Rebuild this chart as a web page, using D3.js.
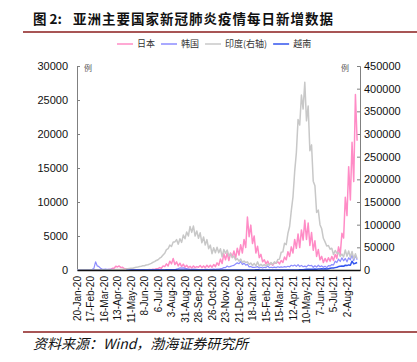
<!DOCTYPE html>
<html>
<head>
<meta charset="utf-8">
<script src="https://cdn.jsdelivr.net/npm/d3@7"></script>
<style>
  body { margin: 0; background: #fff; }
  svg { display: block; }
</style>
</head>
<body>
<svg id="chart" width="417" height="362"></svg>
<script>
// 数据：从2020-01-20起，每3.5天一个读数
const seriesNames = ["日本", "韩国", "印度(右轴)", "越南"];
const seriesColors = ["#ff8cc6", "#8c8cff", "#c8c8c8", "#3355ee"];

const japan = [
  0,0,1,2,3,5,5,10,
  10,20,10,20,15,40,30,40,
  20,40,40,80,90,250,250,550,
  450,600,350,400,200,200,100,100,
  60,70,30,40,20,30,40,50,
  30,50,50,60,40,100,90,200,
  200,350,250,600,500,900,600,1300,
  900,1700,800,1200,600,1000,500,850,
  400,700,350,550,300,600,350,500,
  400,650,350,600,350,700,400,700,
  400,800,500,1050,700,1600,950,2400,
  1500,2500,1400,2500,1900,2800,1700,3200,
  2200,3700,2500,4500,3300,7800,4900,6600,
  3900,5000,2500,3500,1800,2300,1200,1500,
  900,1300,800,1000,700,1100,1000,1200,
  900,1400,1100,1900,1500,2700,2000,3400,
  2500,4500,3200,5300,3300,5900,4400,7300,
  4500,6900,3600,5500,2900,4300,2000,3000,
  1500,2000,1100,1700,1200,1800,1300,2000,
  1400,2300,1700,3400,2300,5400,4700,10700,
  8000,15200,10300,18800,13000,25800,19000
];

const korea = [
  0,0,1,1,2,3,5,2,
  3,100,230,1200,600,500,250,110,
  100,150,80,100,80,90,50,30,
  25,20,10,10,10,10,5,30,
  30,25,20,20,40,40,40,50,
  40,40,40,40,30,50,40,60,
  50,40,40,40,40,50,30,30,
  30,40,40,150,200,300,280,320,
  250,200,150,120,100,120,80,110,
  60,70,70,60,90,100,70,90,
  100,120,100,140,120,190,220,350,
  350,580,450,540,620,680,880,1050,
  920,1240,800,1000,700,850,450,520,
  380,400,430,500,300,400,300,400,
  350,600,330,400,350,420,350,470,
  380,450,400,490,430,550,470,700,
  580,730,530,790,500,680,480,570,
  460,710,620,670,400,620,430,700,
  480,610,400,550,350,650,600,800,
  750,1300,1100,1600,1250,1800,1350,1700,
  1200,1800,1500,2200,1400,2150,1500
];

const india = [
  0,0,0,0,0,0,0,0,
  0,0,0,0,5,10,20,30,
  20,50,100,150,200,500,600,900,
  1000,1000,1300,1500,1600,1900,3000,3500,
  4000,3800,5000,6000,6500,7500,8000,9300,
  9500,11000,11500,13000,14500,17000,18500,21000,
  22500,26000,28500,33000,37000,45000,47000,55000,
  52000,62000,62000,67000,57000,69000,61000,77000,
  69000,84000,75000,96000,83000,97000,75000,86000,
  70000,82000,60000,73000,55000,67000,47000,55000,
  36000,49000,38000,50000,38000,47000,29000,45000,
  37000,44000,31000,36000,27000,31000,22000,25000,
  19500,24000,16500,20000,16500,18000,12500,15500,
  10000,14500,9000,18000,8600,12500,9000,12000,
  9100,13000,10600,16500,12000,18000,15000,23000,
  24000,39000,40000,59000,56000,81000,96000,131000,
  161000,217000,259000,332000,320000,386000,355000,414000,
  329000,362000,263000,276000,196000,186000,127000,132000,
  100000,91000,70000,62000,53000,54000,46000,48000,
  34000,43000,37000,38000,30000,35000,29000,44000,
  30000,42000,28000,41000,25000,36000,25000
];

const vietnam = [
  0,0,0,0,2,1,0,0,
  0,0,0,0,0,5,10,15,
  20,15,10,5,5,3,1,0,
  0,0,0,0,0,0,0,0,
  1,2,3,1,0,0,2,0,
  0,1,0,0,1,2,3,0,
  0,1,2,0,5,20,40,30,
  35,40,30,20,15,10,5,5,
  3,2,1,0,1,2,3,2,
  1,2,3,2,1,2,1,2,
  3,2,1,2,1,2,3,2,
  1,2,3,2,1,2,1,3,
  2,1,2,3,2,1,2,3,
  1,2,30,40,20,10,15,10,
  5,3,2,2,1,2,3,4,
  5,4,3,2,5,4,3,5,
  8,5,3,10,20,30,50,80,
  100,120,100,110,120,130,120,140,
  150,200,150,200,150,200,250,300,
  300,350,400,500,550,600,550,700,
  650,750,700,1300,900,1000,1100
];

const leftTicks = [0, 5000, 10000, 15000, 20000, 25000, 30000];
const rightTicks = [0, 50000, 100000, 150000, 200000, 250000, 300000, 350000, 400000, 450000];
const xTickLabels = ["20-Jan-20","17-Feb-20","16-Mar-20","13-Apr-20","11-May-20","8-Jun-20","6-Jul-20",
  "3-Aug-20","31-Aug-20","28-Sep-20","26-Oct-20","23-Nov-20","21-Dec-20","18-Jan-21","15-Feb-21",
  "15-Mar-21","12-Apr-21","10-May-21","7-Jun-21","5-Jul-21","2-Aug-21"];

const parseLabel = d3.timeParse("%d-%b-%y");
const start = new Date(2020, 0, 20);
const dates = d3.range(japan.length).map(i => d3.timeHour.offset(start, i * 84));

const svg = d3.select("#chart");
const cjk = "'Noto Sans CJK SC', sans-serif";
const latin = "'Liberation Sans', Arial, sans-serif";

// 标题
svg.append("text")
    .attr("x", 33).attr("y", 24)
    .attr("font-family", cjk).attr("font-weight", "bold").attr("font-size", 13.5)
    .attr("fill", "#111")
    .text("图 2:");
svg.append("text")
    .attr("x", 73).attr("y", 24)
    .attr("font-family", cjk).attr("font-weight", "bold").attr("font-size", 13.5)
    .attr("fill", "#111")
    .attr("textLength", 260).attr("lengthAdjust", "spacing")
    .text("亚洲主要国家新冠肺炎疫情每日新增数据");

svg.append("line").attr("x1", 23).attr("x2", 417).attr("y1", 32).attr("y2", 32)
    .attr("stroke", "#8b1c1c").attr("stroke-width", 1.5);
svg.append("line").attr("x1", 23).attr("x2", 417).attr("y1", 332).attr("y2", 332)
    .attr("stroke", "#8b1c1c").attr("stroke-width", 1.5);

// 比例尺
const marginLeft = 77, marginRight = 360, marginTop = 66, marginBottom = 270;
const x = d3.scaleTime().domain([start, new Date(2021, 7, 29)]).range([marginLeft, marginRight]);
const yL = d3.scaleLinear().domain([0, 30000]).range([marginBottom, marginTop]);
const yR = d3.scaleLinear().domain([0, 450000]).range([marginBottom, marginTop]);

// 左轴
svg.append("g")
    .attr("transform", `translate(${marginLeft},0)`)
    .call(d3.axisLeft(yL).tickValues(leftTicks).tickSize(-3).tickPadding(9).tickFormat(d3.format("d")))
    .call(g => g.selectAll("line, path").attr("stroke", "#808080"))
    .call(g => g.selectAll("text").attr("font-family", latin).attr("font-size", 11).attr("fill", "#111"));

// 右轴
svg.append("g")
    .attr("transform", `translate(${marginRight},0)`)
    .call(d3.axisRight(yR).tickValues(rightTicks).tickSize(-3).tickPadding(4).tickFormat(d3.format("d")))
    .call(g => g.selectAll("line, path").attr("stroke", "#808080"))
    .call(g => g.selectAll("text").attr("font-family", latin).attr("font-size", 11).attr("fill", "#111"));

svg.append("text").attr("x", 88).attr("y", 71).attr("text-anchor", "middle")
    .attr("font-family", cjk).attr("font-size", 8).attr("fill", "#555").text("例");
svg.append("text").attr("x", 345).attr("y", 71).attr("text-anchor", "middle")
    .attr("font-family", cjk).attr("font-size", 8).attr("fill", "#555").text("例");

// 折线
const lineL = d3.line().x((d, i) => x(dates[i])).y(d => yL(d));
const lineR = d3.line().x((d, i) => x(dates[i])).y(d => yR(d));

const plotted = [
  { values: japan, line: lineL, color: seriesColors[0], w: 1.5 },
  { values: korea, line: lineL, color: seriesColors[1], w: 1.2 },
  { values: vietnam, line: lineL, color: seriesColors[3], w: 1.5 },
  { values: india, line: lineR, color: seriesColors[2], w: 1.5 }
];
svg.append("g").selectAll("path")
  .data(plotted)
  .join("path")
    .attr("fill", "none")
    .attr("stroke", d => d.color)
    .attr("stroke-width", d => d.w)
    .attr("stroke-linejoin", "round")
    .attr("d", d => d.line(d.values));

// x 轴
svg.append("g")
    .attr("transform", `translate(0,${marginBottom})`)
    .call(d3.axisBottom(x).tickValues(xTickLabels.map(parseLabel)).tickSize(0).tickFormat(d3.timeFormat("%-d-%b-%y")))
    .call(g => g.select(".domain").attr("stroke", "#111").attr("stroke-width", 1.5))
    .selectAll("text")
      .attr("font-family", latin).attr("font-size", 10).attr("fill", "#111")
      .attr("transform", "rotate(-90)")
      .attr("x", -6).attr("y", 0).attr("dy", "0.35em")
      .style("text-anchor", "end");

// 图例
const legend = svg.append("g").attr("font-family", cjk).attr("font-size", 9).attr("fill", "#333");
let cx = 117;
seriesNames.forEach((name, i) => {
  legend.append("line").attr("x1", cx).attr("x2", cx + 16).attr("y1", 44).attr("y2", 44)
      .attr("stroke", seriesColors[i]).attr("stroke-width", 1.5);
  const t = legend.append("text").attr("x", cx + 20).attr("y", 47).text(name);
  cx += 20 + t.node().getComputedTextLength() + 6;
});

// 资料来源
svg.append("text")
    .attr("x", 33).attr("y", 349)
    .attr("font-family", cjk).attr("font-style", "italic").attr("font-size", 14)
    .attr("fill", "#111")
    .text("资料来源：Wind，渤海证券研究所");
</script>
</body>
</html>
